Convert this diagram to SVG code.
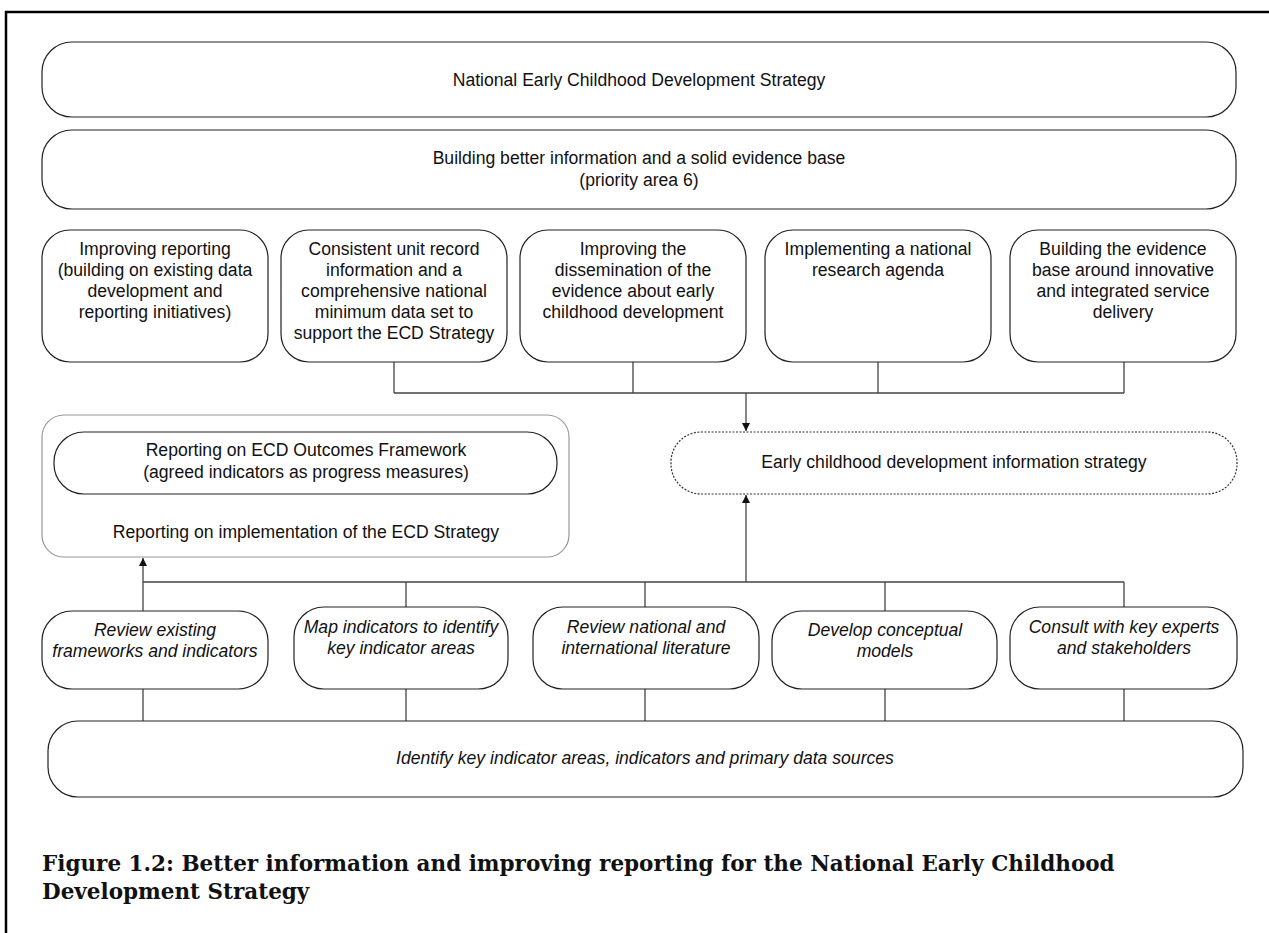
<svg xmlns="http://www.w3.org/2000/svg" width="1269" height="933" viewBox="0 0 1269 933">
<defs>
<style>
.box{fill:#fff;stroke:#222;stroke-width:1.2}
.grey{fill:#fff;stroke:#999;stroke-width:1.2}
.dash{fill:#fff;stroke:#333;stroke-width:1.2;stroke-dasharray:2 1.5}
.t{font-family:"Liberation Sans",Arial,sans-serif;font-size:17.6px;fill:#111;text-anchor:middle}
.i{font-style:italic}
.c{fill:none;stroke:#444;stroke-width:1.3}
.cap{font-family:"DejaVu Serif","Liberation Serif",serif;font-weight:bold;font-size:21.5px;fill:#111}
</style>
<marker id="ah" viewBox="0 0 10 10" refX="10" refY="5" markerWidth="8" markerHeight="8" markerUnits="userSpaceOnUse" orient="auto">
<path d="M0,0 L10,5 L0,10 z" fill="#111"/>
</marker>
</defs>
<rect width="1269" height="933" fill="#fff"/>
<g id="frame"><path d="M6,933 V12 H1269" fill="none" stroke="#000" stroke-width="2.5"/></g>

<g id="connectors">
<path class="c" d="M394,362 V393 M633,362 V393 M878,362 V393 M1124,362 V393 M394,393 H1124"/>
<path class="c" d="M746,393 V431" marker-end="url(#ah)"/>
<path class="c" d="M143,582 H1124 M406,582 V607 M645,582 V607 M885,582 V611 M1124,582 V607"/>
<path class="c" d="M143,611 V558" marker-end="url(#ah)"/>
<path class="c" d="M746,582 V495" marker-end="url(#ah)"/>
<path class="c" d="M143,689 V721 M406,689 V721 M645,689 V721 M885,689 V721 M1124,689 V721"/>
</g>

<g id="n1"><rect class="box" x="42" y="42" width="1194" height="75" rx="30"/>
<text class="t" x="639" y="86">National Early Childhood Development Strategy</text></g>

<g id="n2"><rect class="box" x="42" y="130" width="1194" height="79" rx="30"/>
<text class="t" x="639" y="164">Building better information and a solid evidence base</text>
<text class="t" x="639" y="186">(priority area 6)</text></g>

<g id="r1a"><rect class="box" x="42" y="230" width="226" height="132" rx="28"/>
<text class="t" x="155" y="255">Improving reporting</text>
<text class="t" x="155" y="276">(building on existing data</text>
<text class="t" x="155" y="297">development and</text>
<text class="t" x="155" y="318">reporting initiatives)</text></g>

<g id="r1b"><rect class="box" x="281" y="230" width="226" height="132" rx="28"/>
<text class="t" x="394" y="255">Consistent unit record</text>
<text class="t" x="394" y="276">information and a</text>
<text class="t" x="394" y="297">comprehensive national</text>
<text class="t" x="394" y="318">minimum data set to</text>
<text class="t" x="394" y="339">support the ECD Strategy</text></g>

<g id="r1c"><rect class="box" x="520" y="230" width="226" height="132" rx="28"/>
<text class="t" x="633" y="255">Improving the</text>
<text class="t" x="633" y="276">dissemination of the</text>
<text class="t" x="633" y="297">evidence about early</text>
<text class="t" x="633" y="318">childhood development</text></g>

<g id="r1d"><rect class="box" x="765" y="230" width="226" height="132" rx="28"/>
<text class="t" x="878" y="255">Implementing a national</text>
<text class="t" x="878" y="276">research agenda</text></g>

<g id="r1e"><rect class="box" x="1010" y="230" width="226" height="132" rx="28"/>
<text class="t" x="1123" y="255">Building the evidence</text>
<text class="t" x="1123" y="276">base around innovative</text>
<text class="t" x="1123" y="297">and integrated service</text>
<text class="t" x="1123" y="318">delivery</text></g>

<g id="info"><rect class="dash" x="671" y="432" width="566" height="62" rx="30"/>
<text class="t" x="954" y="468">Early childhood development information strategy</text></g>

<g id="reporting"><rect class="grey" x="42" y="415" width="527" height="142" rx="22"/>
<text class="t" x="306" y="538">Reporting on implementation of the ECD Strategy</text></g>

<g id="outcomes"><rect class="box" x="54" y="432" width="503" height="62" rx="30"/>
<text class="t" x="306" y="456">Reporting on ECD Outcomes Framework</text>
<text class="t" x="306" y="478">(agreed indicators as progress measures)</text></g>

<g id="r2a"><rect class="box" x="42" y="611" width="226" height="78" rx="30"/>
<text class="t i" x="155" y="636">Review existing</text>
<text class="t i" x="155" y="657">frameworks and indicators</text></g>

<g id="r2b"><rect class="box" x="294" y="607" width="214" height="82" rx="30"/>
<text class="t i" x="401" y="633">Map indicators to identify</text>
<text class="t i" x="401" y="654">key indicator areas</text></g>

<g id="r2c"><rect class="box" x="533" y="607" width="226" height="82" rx="30"/>
<text class="t i" x="646" y="633">Review national and</text>
<text class="t i" x="646" y="654">international literature</text></g>

<g id="r2d"><rect class="box" x="772" y="611" width="225" height="78" rx="30"/>
<text class="t i" x="885" y="636">Develop conceptual</text>
<text class="t i" x="885" y="657">models</text></g>

<g id="r2e"><rect class="box" x="1010" y="607" width="227" height="82" rx="30"/>
<text class="t i" x="1124" y="633">Consult with key experts</text>
<text class="t i" x="1124" y="654">and stakeholders</text></g>

<g id="bottom"><rect class="box" x="48" y="721" width="1195" height="76" rx="30"/>
<text class="t i" x="645" y="764">Identify key indicator areas, indicators and primary data sources</text></g>

<g id="caption">
<text class="cap" x="42" y="871">Figure 1.2: Better information and improving reporting for the National Early Childhood</text>
<text class="cap" x="42" y="899">Development Strategy</text>
</g>
</svg>
